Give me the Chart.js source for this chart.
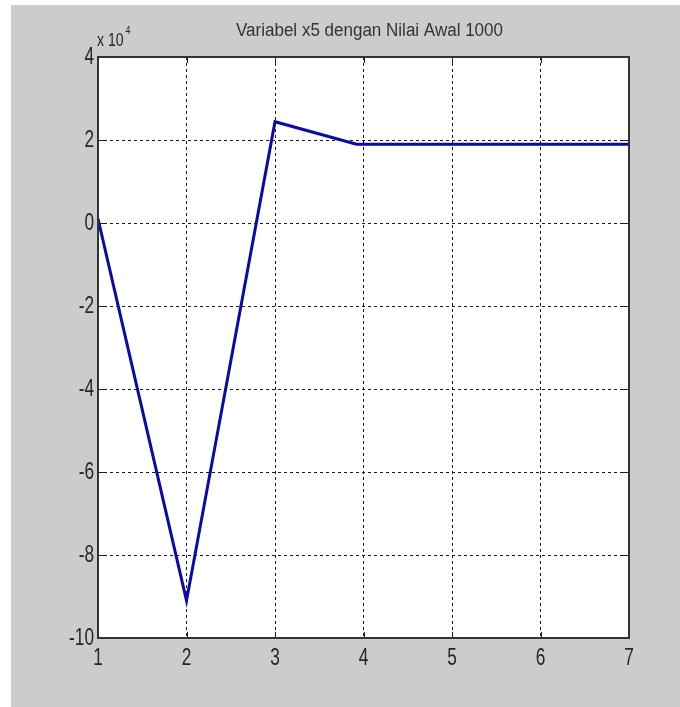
<!DOCTYPE html>
<html>
<head>
<meta charset="utf-8">
<script src="https://cdn.jsdelivr.net/npm/chart.js@4"></script>
<style>
html,body{margin:0;padding:0;background:#ffffff;}
#wrap{width:680px;height:707px;position:relative;}
</style>
</head>
<body>
<div id="wrap"><canvas id="c" width="680" height="707"></canvas></div>
<script>
const titleText = "Variabel x5 dengan Nilai Awal 1000";
const xValues = [1, 2, 3, 3.92, 5, 6, 7];
const yValues = [1000, -91000, 24400, 19000, 19000, 19000, 19000];
const xTicks = [1, 2, 3, 4, 5, 6, 7];
const yTicks = [4, 2, 0, -2, -4, -6, -8, -10];
const yExponent = 4;

const FONT = '"Liberation Sans", Arial, sans-serif';
const SQUEEZE = 0.72;
const points = xValues.map((x, i) => ({x: x, y: yValues[i]}));

function squeezedText(ctx, text, x, y, align, sx) {
  ctx.save();
  ctx.translate(x, y);
  ctx.scale(sx, 1);
  ctx.textAlign = align;
  ctx.fillText(text, 0, 0);
  ctx.restore();
}

const decor = {
  id: 'decor',
  beforeDraw(chart) {
    const ctx = chart.ctx, a = chart.chartArea;
    ctx.save();
    ctx.fillStyle = '#ffffff';
    ctx.fillRect(0, 0, chart.width, chart.height);
    ctx.fillStyle = '#cccccc';
    ctx.fillRect(11, 5, chart.width - 11, chart.height - 5);
    ctx.fillStyle = '#ffffff';
    ctx.fillRect(a.left, a.top, a.right - a.left, a.bottom - a.top);
    ctx.restore();
  },
  afterDraw(chart) {
    const ctx = chart.ctx, a = chart.chartArea;
    const xs = chart.scales.x, ys = chart.scales.y;
    ctx.save();
    ctx.strokeStyle = '#222222';
    ctx.lineWidth = 1;
    const tl = 6;
    ctx.beginPath();
    xTicks.forEach(v => {
      const px = Math.round(xs.getPixelForValue(v)) + 0.5;
      ctx.moveTo(px, a.bottom); ctx.lineTo(px, a.bottom - tl);
      ctx.moveTo(px, a.top); ctx.lineTo(px, a.top + tl);
    });
    yTicks.forEach(v => {
      const py = Math.round(ys.getPixelForValue(v * Math.pow(10, yExponent))) + 0.5;
      ctx.moveTo(a.left, py); ctx.lineTo(a.left + tl, py);
      ctx.moveTo(a.right, py); ctx.lineTo(a.right - tl, py);
    });
    ctx.stroke();
    ctx.strokeStyle = '#333333';
    ctx.lineWidth = 2;
    ctx.strokeRect(a.left, a.top, a.right - a.left, a.bottom - a.top);

    // tick labels (from the library scales)
    ctx.fillStyle = '#262626';
    ctx.font = '24px ' + FONT;
    ctx.textBaseline = 'middle';
    xs.ticks.forEach(t => {
      const px = xs.getPixelForValue(t.value);
      squeezedText(ctx, String(t.value), px, a.bottom + 20, 'center', SQUEEZE);
    });
    ys.ticks.forEach(t => {
      const py = ys.getPixelForValue(t.value);
      squeezedText(ctx, String(Math.round(t.value / Math.pow(10, yExponent))), a.left - 4, py, 'right', SQUEEZE);
    });

    // title
    ctx.fillStyle = '#333333';
    ctx.font = '18px ' + FONT;
    const tw = ctx.measureText(titleText).width;
    squeezedText(ctx, titleText, (a.left + a.right) / 2 + 6, 31, 'center', 267 / tw);
    // exponent
    ctx.fillStyle = '#262626';
    ctx.font = '18px ' + FONT;
    squeezedText(ctx, 'x 10', a.left - 1, 41, 'left', 0.78);
    const w = ctx.measureText('x 10').width * 0.78;
    ctx.font = '11px ' + FONT;
    squeezedText(ctx, String(yExponent), a.left + w + 1, 31, 'left', 0.8);
    ctx.restore();
  }
};

new Chart(document.getElementById('c'), {
  type: 'line',
  data: {
    datasets: [{
      data: points,
      borderColor: '#0a0aa8',
      borderWidth: 3,
      pointRadius: 0,
      tension: 0,
      fill: false
    }]
  },
  options: {
    responsive: false,
    animation: false,
    events: [],
    layout: {padding: {left: 0, top: 57, right: 51, bottom: 0}},
    plugins: {legend: {display: false}, title: {display: false}, tooltip: {enabled: false}},
    scales: {
      x: {
        type: 'linear',
        min: 1, max: 7,
        afterFit(scale) { scale.height = 69; },
        afterBuildTicks(scale) { scale.ticks = xTicks.map(v => ({value: v})); },
        grid: {color: '#1a1a1a', lineWidth: 1, drawTicks: false},
        border: {display: false, dash: [3, 3]},
        ticks: {display: false}
      },
      y: {
        type: 'linear',
        min: yTicks[yTicks.length - 1] * Math.pow(10, yExponent),
        max: yTicks[0] * Math.pow(10, yExponent),
        afterFit(scale) { scale.width = 98; },
        afterBuildTicks(scale) { scale.ticks = yTicks.map(v => ({value: v * Math.pow(10, yExponent)})); },
        grid: {color: '#1a1a1a', lineWidth: 1, drawTicks: false},
        border: {display: false, dash: [3, 3]},
        ticks: {display: false}
      }
    }
  },
  plugins: [decor]
});
</script>
</body>
</html>
